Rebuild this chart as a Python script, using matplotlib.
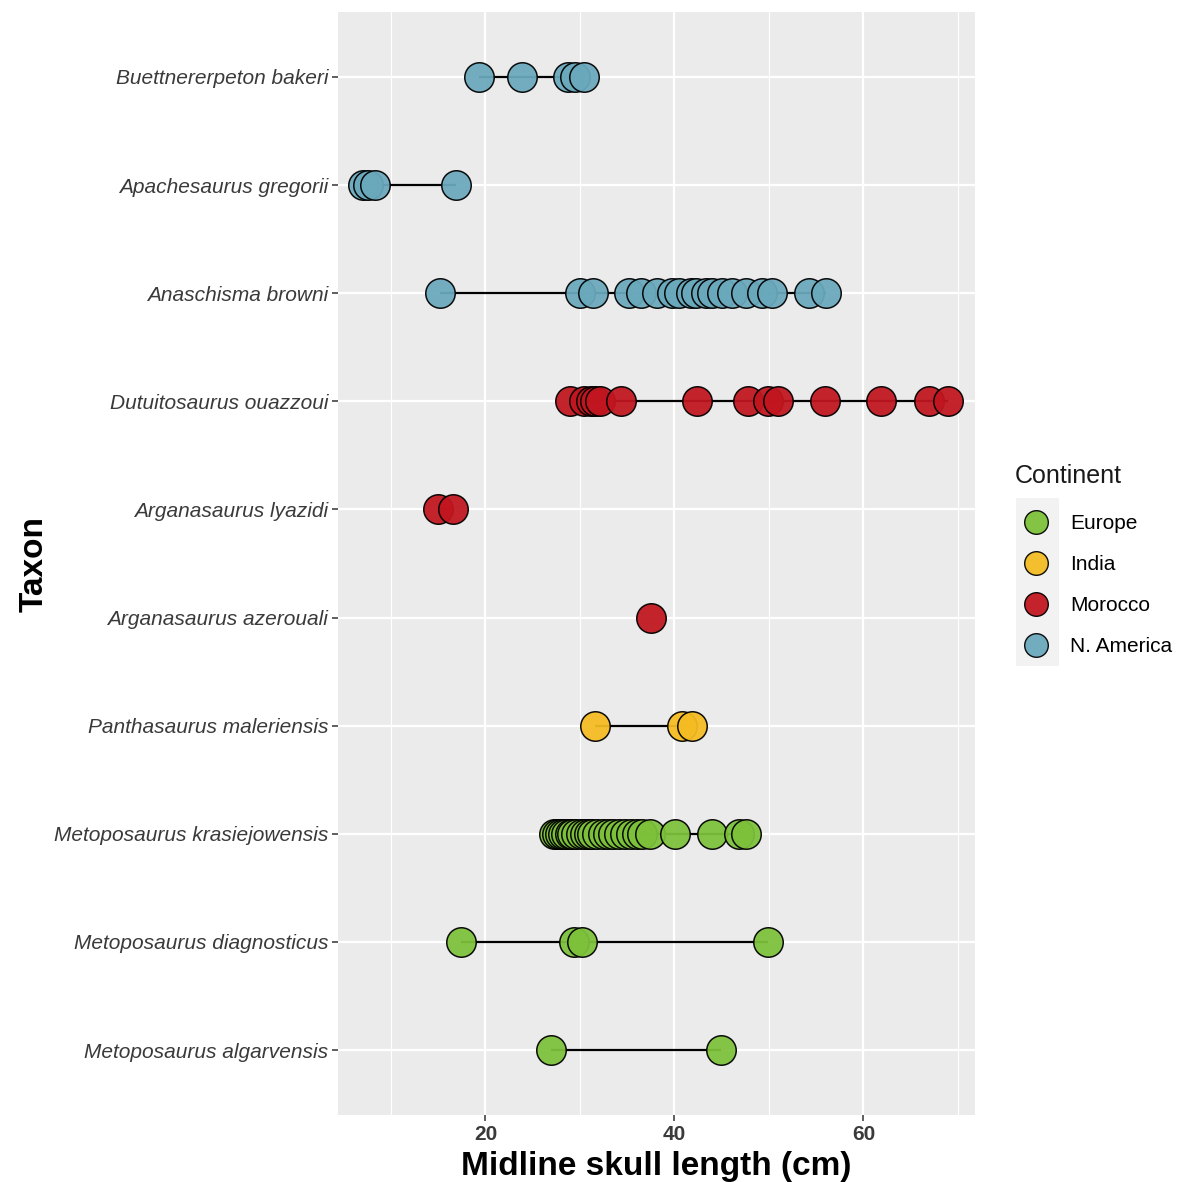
import matplotlib
matplotlib.use("Agg")
import matplotlib.pyplot as plt
from matplotlib.lines import Line2D
from matplotlib.patches import Rectangle

plt.rcParams['font.family'] = ['Liberation Sans', 'DejaVu Sans']

# Taxa, top to bottom
taxa = ["Buettnererpeton bakeri", "Apachesaurus gregorii", "Anaschisma browni",
        "Dutuitosaurus ouazzoui", "Arganasaurus lyazidi", "Arganasaurus azerouali",
        "Panthasaurus maleriensis", "Metoposaurus krasiejowensis",
        "Metoposaurus diagnosticus", "Metoposaurus algarvensis"]
continent = ["N. America", "N. America", "N. America", "Morocco", "Morocco", "Morocco",
             "India", "Europe", "Europe", "Europe"]

buettnererpeton_bakeri = [19.3, 23.9, 28.7, 29.5, 30.4]
apachesaurus_gregorii = [7.0, 7.6, 8.3, 16.9]
anaschisma_browni = [15.2, 30.0, 31.4, 35.2, 36.5, 38.1, 39.7, 40.5, 41.8, 42.3, 43.3,
                     44.0, 45.0, 46.1, 47.6, 49.3, 50.3, 54.2, 56.0]
dutuitosaurus_ouazzoui = [28.9, 30.4, 31.2, 31.6, 32.1, 34.3, 42.4, 47.8, 49.9, 51.0,
                          55.9, 61.9, 66.9, 68.9]
arganasaurus_lyazidi = [15.0, 16.6]
arganasaurus_azerouali = [37.5]
panthasaurus_maleriensis = [31.6, 40.8, 41.9]
metoposaurus_krasiejowensis = [27.3, 27.6, 27.9, 28.2, 28.5, 28.9, 29.2, 29.6, 30.1, 30.5,
                               31.0, 31.3, 31.8, 32.4, 33.0, 33.5, 34.1, 34.8, 35.4, 36.0,
                               36.6, 37.4, 40.1, 44.0, 46.8, 47.6]
metoposaurus_diagnosticus = [17.4, 29.4, 30.2, 49.9]
metoposaurus_algarvensis = [26.9, 44.9]

values = [buettnererpeton_bakeri, apachesaurus_gregorii, anaschisma_browni,
          dutuitosaurus_ouazzoui, arganasaurus_lyazidi, arganasaurus_azerouali,
          panthasaurus_maleriensis, metoposaurus_krasiejowensis,
          metoposaurus_diagnosticus, metoposaurus_algarvensis]

legend_order = ["Europe", "India", "Morocco", "N. America"]
colors = {"Europe": "#7DC13A", "India": "#F5BC22", "Morocco": "#C1161F", "N. America": "#6AA8BC"}

fig = plt.figure(figsize=(11.8, 11.82), dpi=100)
ax = fig.add_axes([338/1180, (1182-1115)/1182, (975-338)/1180, (1115-12)/1182])
ax.set_facecolor("#EBEBEB")
for s in ax.spines.values():
    s.set_visible(False)

n = len(taxa)
for i, (t, c, v) in enumerate(zip(taxa, continent, values)):
    y = n - 1 - i
    if len(v) > 1:
        ax.plot([min(v), max(v)], [y, y], color="black", lw=1.6, zorder=2, solid_capstyle='butt')
    ax.scatter(v, [y]*len(v), s=450, facecolor=colors[c], edgecolor="black",
               linewidth=1.1, alpha=0.94, zorder=3)

ax.set_xlim(4.4, 71.8)
ax.set_ylim(-0.6, n - 1 + 0.6)
ax.set_xticks([20, 40, 60])
ax.set_xticks([10, 30, 50, 70], minor=True)
ax.set_yticks(range(n))
ax.set_yticklabels(taxa[::-1], fontstyle='italic', fontsize=15, color="#3A3A3A")
ax.set_xticklabels(["20", "40", "60"], fontweight='bold', fontsize=15, color="#3A3A3A")
ax.grid(which='major', color='white', lw=1.6, zorder=0)
ax.grid(which='minor', axis='x', color='white', lw=0.8, zorder=0)
ax.set_axisbelow(True)
ax.tick_params(axis='both', which='major', length=4, width=1.1, color="#333333", pad=3)
ax.tick_params(axis='x', which='minor', length=0)
ax.set_xlabel("Midline skull length (cm)", fontsize=24, fontweight='bold', labelpad=5)
ax.set_ylabel("Taxon", fontsize=24, fontweight='bold', labelpad=3)

# legend key background
fig.patches.append(Rectangle((1016/1180, (1182-666)/1182), 43/1180, 168/1182,
                             transform=fig.transFigure, facecolor="#F2F2F2",
                             edgecolor='none', zorder=0))
handles = [Line2D([0], [0], marker='o', linestyle='none', markersize=17,
                  markerfacecolor=colors[k], markeredgecolor='black', markeredgewidth=1.0,
                  alpha=0.94, label=k) for k in legend_order]
leg = fig.legend(handles=handles, title="Continent", loc='upper left',
                 bbox_to_anchor=(1015/1180, (1182-464)/1182), frameon=False,
                 fontsize=15, title_fontsize=18, labelspacing=1.05, handletextpad=0.65,
                 borderaxespad=0, borderpad=0, alignment='left')
leg.get_title().set_color("#1A1A1A")
leg._legend_box.sep = 19

fig.savefig("out.png", dpi=100)
